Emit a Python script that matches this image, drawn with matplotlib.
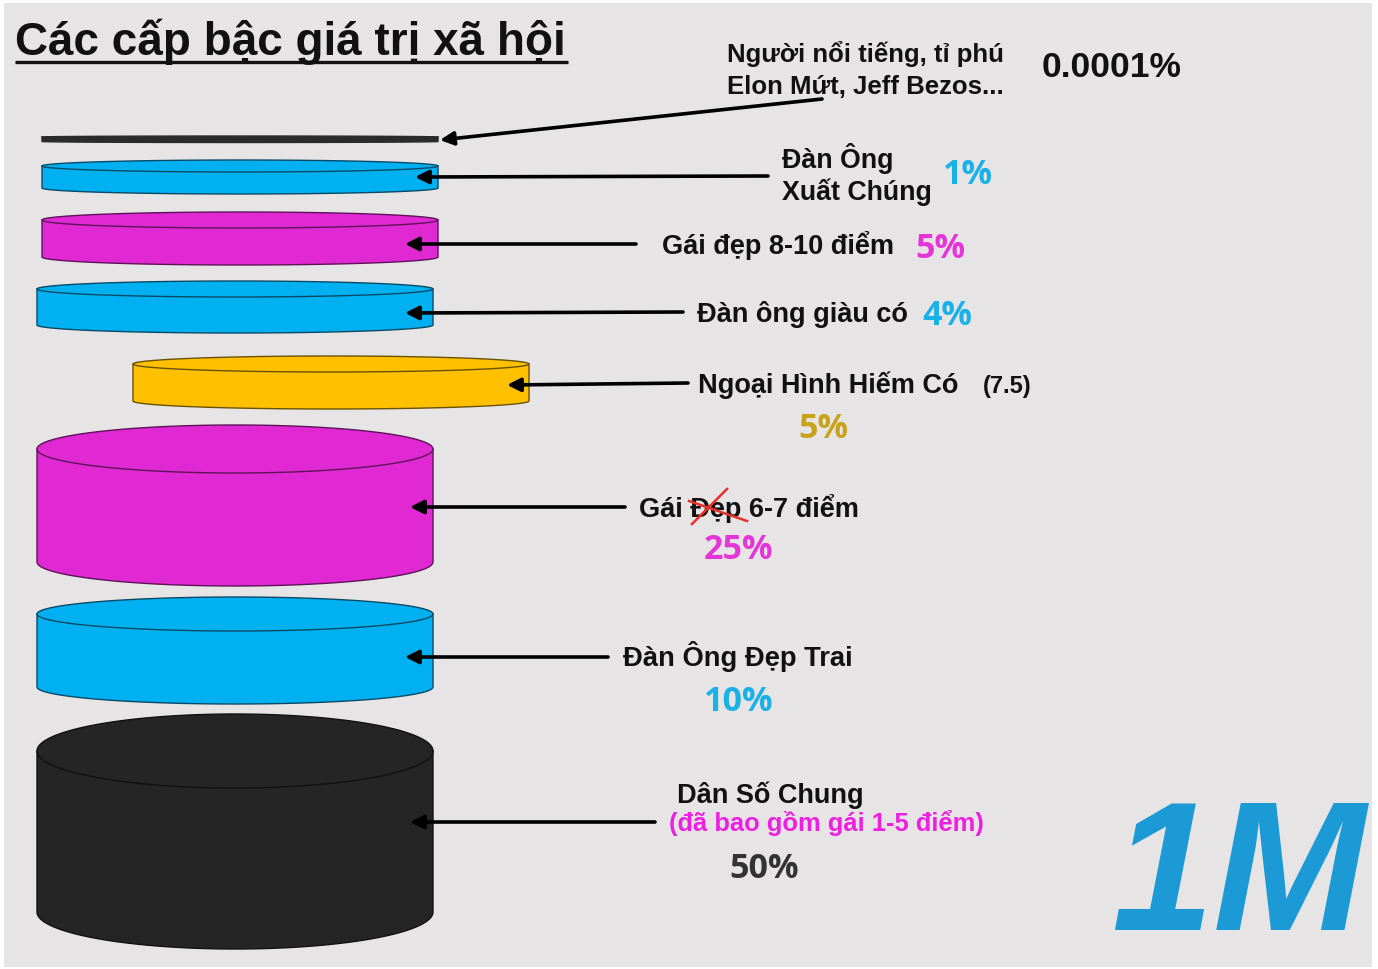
import numpy as np
import matplotlib
matplotlib.use("Agg")
import matplotlib.pyplot as plt
from matplotlib.patches import Polygon, Rectangle

# data: tiers from top to bottom
labels = [["Người nổi tiếng, tỉ phú", "Elon Mứt, Jeff Bezos..."],
          ["Đàn Ông", "Xuất Chúng"],
          ["Gái đẹp 8-10 điểm"],
          ["Đàn ông giàu có"],
          ["Ngoại Hình Hiếm Có"],
          ["Gái Đẹp 6-7 điểm"],
          ["Đàn Ông Đẹp Trai"],
          ["Dân Số Chung"]]
shares = ["0.0001%", "1%", "5%", "4%", "5%", "25%", "10%", "50%"]
fills = ["#2b2b2b", "#00b0f0", "#e028d3", "#00b0f0", "#ffc000", "#e028d3", "#00b0f0", "#252525"]
edges = ["#2b2b2b", "#0b4a66", "#5e1358", "#0b4a66", "#6b5200", "#5e1358", "#0b4a66", "#111111"]
share_colors = ["#111111", "#1ab0e8", "#e535d8", "#1ab0e8", "#c9a21c", "#e535d8", "#1ab0e8", "#333333"]
title = "Các cấp bậc giá trị xã hội"
note_score = "(7.5)"
note_pop = "(đã bao gồm gái 1-5 điểm)"
logo = "1M"

# layout (pixel coords, y downwards)
cyl_x0 = [42, 42, 42, 37, 133, 37, 37, 37]
cyl_x1 = [438, 438, 438, 433, 529, 433, 433, 433]
cyl_top = [138, 167, 221, 290, 365, 450, 615, 752]
cyl_bot = [142.5, 189, 258, 326, 402, 563, 688, 913]
cyl_ry = [1.0, 6, 8, 8, 8, 24, 17, 37]
arrow_tail = [(822, 100), (768, 177), (636, 245), (683, 313), (688, 384), (625, 508), (608, 658), (655, 823)]
arrow_head = [(440, 141), (415, 178), (405, 245), (405, 314), (507, 386), (410, 508), (405, 658), (410, 823)]
label_x = [727, 782, 662, 697, 698, 639, 623, 677]
label_y = [62, 168, 254, 322, 393, 517, 666, 803]
label_size = [18.5, 19.3, 19.5, 19.5, 19.5, 19.5, 19.7, 19.5]
line_gap = 32
share_xy = [(1042, 77), (943, 184), (915, 258), (922, 325), (798, 438), (704, 559), (704, 711), (729, 878)]

W, H = 1378, 970
fig = plt.figure(figsize=(W / 100, H / 100), dpi=100, facecolor="white")
ax = fig.add_axes([0, 0, 1, 1])
ax.set_xlim(0, W)
ax.set_ylim(H, 0)
ax.axis("off")
ax.add_patch(Rectangle((4, 4), W - 10, H - 6, facecolor="#e6e4e5", edgecolor="none", zorder=0))

sans = ["Liberation Sans", "DejaVu Sans"]
label_font = dict(family=sans, fontweight="bold", color="#111111")
share_font = dict(family=["Open Sans", "DejaVu Sans"], fontweight="bold")


def cylinder(x0, x1, yt, yb, ry, fc, ec):
    cx, rx = (x0 + x1) / 2, (x1 - x0) / 2
    a = np.linspace(np.pi, 0, 80)
    back = np.column_stack([cx + rx * np.cos(a), yt - ry * np.sin(a)])
    a2 = np.linspace(0, np.pi, 80)
    front = np.column_stack([cx + rx * np.cos(a2), yb + ry * np.sin(a2)])
    ax.add_patch(Polygon(np.vstack([back, front]), closed=True, facecolor=fc,
                         edgecolor=ec, lw=1, zorder=2))
    ax.plot(cx + rx * np.cos(a2), yt + ry * np.sin(a2), color=ec, lw=1, zorder=3)


for i in range(len(shares)):
    cylinder(cyl_x0[i], cyl_x1[i], cyl_top[i], cyl_bot[i], cyl_ry[i], fills[i], edges[i])
    ax.annotate("", xy=arrow_head[i], xytext=arrow_tail[i],
                arrowprops=dict(arrowstyle="-|>", color="black", lw=2.6,
                                mutation_scale=20, shrinkA=0, shrinkB=0), zorder=5)
    for j, line in enumerate(labels[i]):
        ax.text(label_x[i], label_y[i] + j * line_gap, line, fontsize=label_size[i],
                va="baseline", ha="left", **label_font)
    if i == 0:
        ax.text(*share_xy[i], shares[i], fontsize=25.5, va="baseline", ha="left", **label_font)
    else:
        ax.text(*share_xy[i], shares[i], fontsize=24.5, va="baseline", ha="left",
                color=share_colors[i], **share_font)

# extra notes
ax.text(983, 393, note_score, fontsize=17, va="baseline", ha="left", **label_font)
ax.text(669, 831, note_pop, fontsize=18.4, va="baseline", ha="left",
        family=sans, fontweight="bold", color="#ee1fe0")

# red cross over "Đẹp"
ax.plot([692, 727], [525, 490], color="#e8302a", lw=1.8, zorder=6)
ax.plot([689, 747], [502, 522], color="#e8302a", lw=1.8, zorder=6)

# title with underline
ax.text(15, 55, title, fontsize=33, va="baseline", ha="left",
        family=sans, fontweight="bold", color="#111111")
ax.plot([15, 568], [63, 63], color="#111111", lw=2.4, solid_capstyle="butt")

# logo
ax.text(1366, 968, logo, fontsize=132, va="bottom", ha="right", style="italic",
        family=sans, fontweight="bold", color="#1b9ad6")

fig.savefig("out.png", dpi=100, facecolor="white")
